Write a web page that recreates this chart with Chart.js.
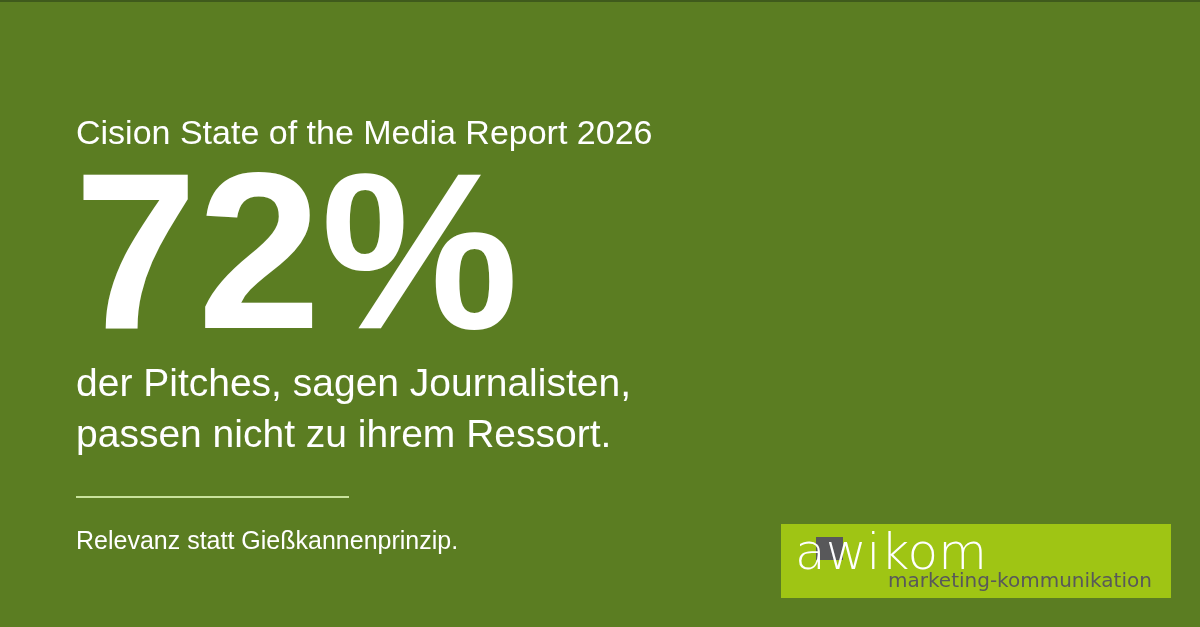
<!DOCTYPE html>
<html>
<head>
<meta charset="utf-8">
<script src="https://cdn.jsdelivr.net/npm/chart.js@4"></script>
<style>
  html, body { margin: 0; padding: 0; background: #5b7d22; overflow: hidden; }
  canvas { display: block; }
</style>
</head>
<body>
<canvas id="karte" width="1200" height="627"></canvas>
<script>
const quelle = "Cision State of the Media Report 2026";
const anteil = [72];
const aussage = ["der Pitches, sagen Journalisten,", "passen nicht zu ihrem Ressort."];
const fazit = "Relevanz statt Gießkannenprinzip.";
const logo = ["awikom", "marketing-kommunikation"];

// Zeichnet die komplette Grafik auf den Chart-Canvas
const grafikPlugin = {
  id: "grafik",
  beforeDraw(chart) {
    const ctx = chart.ctx;
    ctx.save();
    ctx.fillStyle = "#5b7d22";
    ctx.fillRect(0, 0, 1200, 627);
    ctx.fillStyle = "#3f5a1c";
    ctx.fillRect(0, 0, 1200, 2);

    ctx.fillStyle = "#ffffff";
    ctx.textBaseline = "alphabetic";
    ctx.font = "34px 'Liberation Sans', Arial, sans-serif";
    ctx.fillText(quelle, 76, 144);

    ctx.font = "bold 222px 'Liberation Sans', Arial, sans-serif";
    ctx.fillText(chart.data.datasets[0].data[0] + "%", 74, 328);

    ctx.font = "39px 'Liberation Sans', Arial, sans-serif";
    ctx.fillText(aussage[0], 76, 396);
    ctx.fillText(aussage[1], 76, 447);

    ctx.fillStyle = "#c9e29c";
    ctx.fillRect(76, 496, 273, 2);

    ctx.fillStyle = "#ffffff";
    ctx.font = "25px 'Liberation Sans', Arial, sans-serif";
    ctx.fillText(fazit, 76, 549);

    // Logo
    ctx.fillStyle = "#9fc514";
    ctx.fillRect(781, 524, 390, 74);
    ctx.fillStyle = "#58585a";
    ctx.fillRect(816, 537, 27, 23);
    ctx.fillStyle = "#ffffff";
    ctx.font = "200 50px 'DejaVu Sans', sans-serif";
    ctx.fillText(logo[0], 795, 569);
    ctx.fillStyle = "#58585a";
    ctx.font = "20px 'DejaVu Sans', sans-serif";
    ctx.fillText(logo[1], 888, 587);
    ctx.restore();
  }
};

new Chart(document.getElementById("karte"), {
  type: "bar",
  data: {
    labels: [""],
    datasets: [{ data: anteil, backgroundColor: "rgba(0,0,0,0)" }]
  },
  options: {
    responsive: false,
    animation: false,
    devicePixelRatio: 1,
    plugins: { legend: { display: false }, tooltip: { enabled: false } },
    scales: { x: { display: false }, y: { display: false, min: 0, max: 100 } }
  },
  plugins: [grafikPlugin]
});
</script>
</body>
</html>
